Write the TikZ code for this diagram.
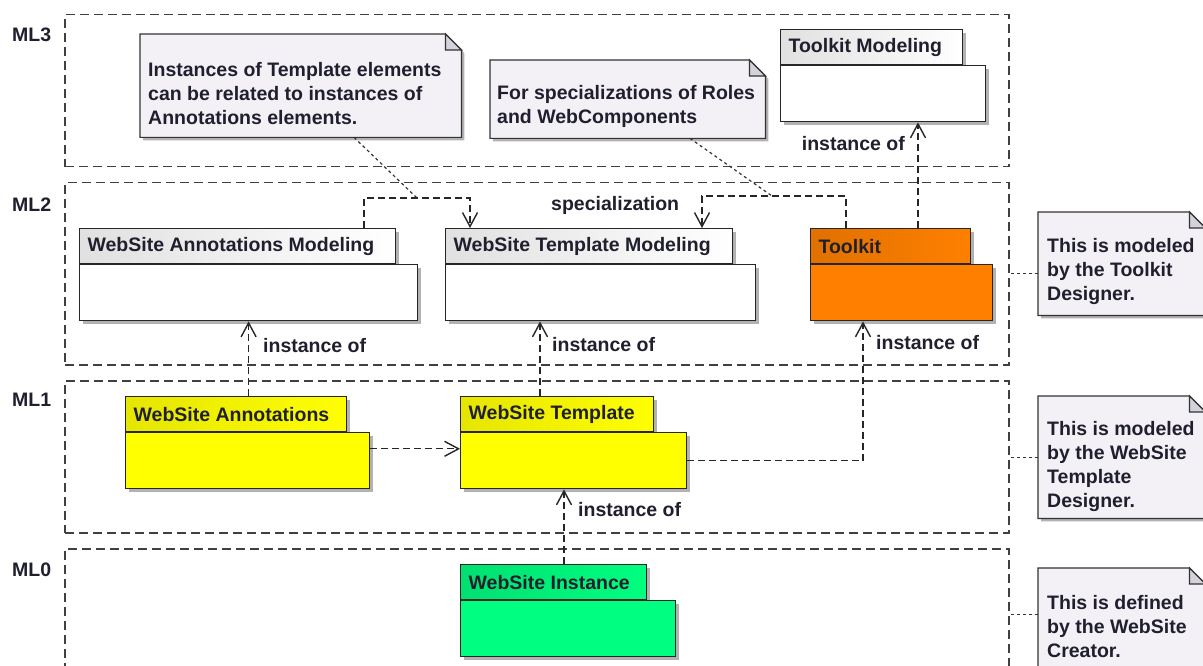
\documentclass[tikz,border=0pt]{standalone}
\usepackage{fontspec}
\setmainfont{Liberation Sans}
\usetikzlibrary{arrows.meta,shadows}

\definecolor{inkdark}{HTML}{1F1F2E}
\definecolor{notefill}{HTML}{F3F0F6}
\definecolor{foldgray}{HTML}{D4D2DA}
\definecolor{pkgyellow}{HTML}{FFFF00}
\definecolor{pkgorange}{HTML}{FF8000}
\definecolor{pkggreen}{HTML}{00FF80}

% folded note outline round an empty node
\newcommand\notebox[1]{%
  \fill[black, opacity=.3] ([shift={(3pt,-3pt)}]#1.north west) -- ([shift={(-13pt,-3pt)}]#1.north east)
    -- ([shift={(3pt,-19pt)}]#1.north east) -- ([shift={(3pt,-3pt)}]#1.south east)
    -- ([shift={(3pt,-3pt)}]#1.south west) -- cycle;
  \draw[notedraw, fill=notefill] (#1.north west) -- ([xshift=-16pt]#1.north east)
    -- ([yshift=-16pt]#1.north east) -- (#1.south east) -- (#1.south west) -- cycle;
  \draw[notedraw, fill=foldgray] ([xshift=-16pt]#1.north east) -- ([shift={(-16pt,-16pt)}]#1.north east)
    -- ([yshift=-16pt]#1.north east) -- cycle;}

\begin{document}
\begin{tikzpicture}[x=1pt,y=-1pt,font=\bfseries\fontsize{19.5}{24}\selectfont,text=inkdark]

  \tikzset{lane/.style = {draw=black!75,line width=1.5pt,dash pattern=on 9pt off 5pt,
                          anchor=north west,minimum width=944pt,inner sep=0}}
  \tikzset{lanelabel/.style = {anchor=west,inner sep=0}}
  \tikzset{note/.style = {anchor=north west,inner sep=0}}
  \tikzset{notedraw/.style = {draw=black!80,line width=1.2pt}}
  \tikzset{notetext/.style = {anchor=west,align=left,inner sep=0}}
  \tikzset{pkgshadow/.style = {drop shadow={shadow xshift=3pt,shadow yshift=-3pt,fill=black,opacity=.3}}}
  \tikzset{pkgtab/.style = {draw=black!85,line width=1.2pt,anchor=north west,minimum height=35pt,
                            inner xsep=8pt,align=flush left,text width=#1,pkgshadow}}
  \tikzset{pkgbody/.style = {draw=black!85,line width=1.2pt,anchor=north west,minimum height=56pt,
                             minimum width=#1,inner sep=0,pkgshadow}}
  \tikzset{inst/.style = {draw=black!85,line width=1.3pt,dash pattern=on 7pt off 4pt,
                          -{Straight Barb[length=14pt,width=15pt,line width=1.4pt]}}}
  \tikzset{anchorline/.style = {draw=black!80,line width=1.2pt,dash pattern=on 3pt off 3pt}}
  \tikzset{lbl/.style = {inner sep=0}}

  \useasboundingbox (0,0) rectangle (1203,666);
  \clip (0,0) rectangle (1203,666);

  % meta levels
  \node[lane,minimum height=152pt] (ml3) at (64,14) {};
  \node[lane,minimum height=182pt] (ml2) at (64,182) {};
  \node[lane,minimum height=152pt] (ml1) at (64,380) {};
  \node[lane,minimum height=140pt] (ml0) at (64,548) {};
  \node[lanelabel] (ml3l) at ([xshift=-52pt,yshift=-21pt]ml3.north west) {ML3};
  \node[lanelabel] (ml2l) at ([xshift=-52pt,yshift=-23pt]ml2.north west) {ML2};
  \node[lanelabel] (ml1l) at ([xshift=-52pt,yshift=-20pt]ml1.north west) {ML1};
  \node[lanelabel] (ml0l) at ([xshift=-52pt,yshift=-22pt]ml0.north west) {ML0};

  % notes
  \node[note,minimum width=321pt,minimum height=103pt] (n1) at (140,34) {};
  \notebox{n1}
  \node[notetext] (n1t) at ([xshift=8pt,yshift=-8pt]n1.west)
    {Instances of Template elements\\can be related to instances of\\Annotations elements.};
  \node[note,minimum width=275pt,minimum height=78pt] (n2) at (490,60) {};
  \notebox{n2}
  \node[notetext] (n2t) at ([xshift=7pt,yshift=-7pt]n2.west) {For specializations of Roles\\and WebComponents};
  \node[note,minimum width=167pt,minimum height=103pt] (n3) at (1038,212) {};
  \notebox{n3}
  \node[notetext] (n3t) at ([xshift=9pt,yshift=-8pt]n3.west) {This is modeled\\by the Toolkit\\Designer.};
  \node[note,minimum width=167pt,minimum height=122pt] (n4) at (1038,396) {};
  \notebox{n4}
  \node[notetext] (n4t) at ([xshift=9pt,yshift=-9pt]n4.west) {This is modeled\\by the WebSite\\Template\\Designer.};
  \node[note,minimum width=167pt,minimum height=103pt] (n5) at (1038,568) {};
  \notebox{n5}
  \node[notetext] (n5t) at ([xshift=9pt,yshift=-7pt]n5.west) {This is defined\\by the WebSite\\Creator.};

  % packages
  \node[pkgtab=166pt,left color=black!12,right color=white] (tkmT) at (780,29) {Toolkit Modeling};
  \node[pkgbody=205pt,fill=white] (tkmB) at (tkmT.south west) {};
  \node[pkgtab=300pt,left color=black!12,right color=white] (wamT) at (79,228) {WebSite Annotations Modeling};
  \node[pkgbody=338pt,fill=white] (wamB) at (wamT.south west) {};
  \node[pkgtab=271pt,left color=black!12,right color=white] (wtmT) at (445,228) {WebSite Template Modeling};
  \node[pkgbody=310pt,fill=white] (wtmB) at (wtmT.south west) {};
  \node[pkgtab=144pt,left color=pkgorange!88!black,right color=pkgorange] (tkT) at (810,228) {Toolkit};
  \node[pkgbody=182pt,fill=pkgorange] (tkB) at (tkT.south west) {};
  \node[pkgtab=205pt,left color=pkgyellow!90!black,right color=pkgyellow] (wsaT) at (125,396) {WebSite Annotations};
  \node[pkgbody=244pt,fill=pkgyellow] (wsaB) at (wsaT.south west) {};
  \node[pkgtab=177pt,left color=pkgyellow!90!black,right color=pkgyellow] (wstT) at (460,396) {WebSite Template};
  \node[pkgbody=226pt,fill=pkgyellow] (wstB) at (wstT.south west) {};
  \node[pkgtab=170pt,left color=pkggreen!88!black,right color=pkggreen] (wsiT) at (460,564) {WebSite Instance};
  \node[pkgbody=215pt,fill=pkggreen] (wsiB) at (wsiT.south west) {};

  % connectors
  \draw[inst] ([xshift=285pt]wamT.north west) -- ++(0,-30) coordinate (s1) -| ([xshift=25pt]wtmT.north west);
  \draw[inst] ([xshift=36pt]tkT.north west) -- ++(0,-32) coordinate (s2) -| ([xshift=257pt]wtmT.north west);
  \draw[inst] ([xshift=108pt]tkT.north west) -- ([xshift=108pt]tkT.north west |- tkmB.south);
  \draw[inst] (wamB.south |- wsaT.north) -- (wamB.south);
  \draw[inst] ([xshift=80pt]wstT.north west) -- ([xshift=80pt]wstT.north west |- wtmB.south);
  \draw[inst] (wstB.east) -| ([xshift=53pt]tkB.south west);
  \draw[inst] ([yshift=12pt]wsaB.east) -- ([yshift=12pt]wsaB.east -| wstB.west);
  \draw[inst] ([xshift=104pt]wsiT.north west) -- ([xshift=104pt]wsiT.north west |- wstB.south);

  \draw[anchorline] ([xshift=214pt]n1.south west) -- ([xshift=53pt]s1);
  \draw[anchorline] ([xshift=200pt]n2.south west) -- ([xshift=-74pt]s2);
  \draw[anchorline] ([yshift=-10pt]n3.west) -- ([yshift=-10pt]n3.west -| ml2.east);
  \draw[anchorline] (n4.west) -- (n4.west -| ml1.east);
  \draw[anchorline] ([yshift=5pt]n5.west) -- ([yshift=5pt]n5.west -| ml0.east);

  % labels
  \node[lbl,anchor=east] (io1) at (905,144) {instance of};
  \node[lbl,anchor=west] (sp) at (551,205) {specialization};
  \node[lbl,anchor=west] (io2) at (263,346) {instance of};
  \node[lbl,anchor=west] (io3) at (552,345) {instance of};
  \node[lbl,anchor=west] (io4) at (876,343) {instance of};
  \node[lbl,anchor=west] (io5) at (578,510) {instance of};

\end{tikzpicture}
\end{document}
